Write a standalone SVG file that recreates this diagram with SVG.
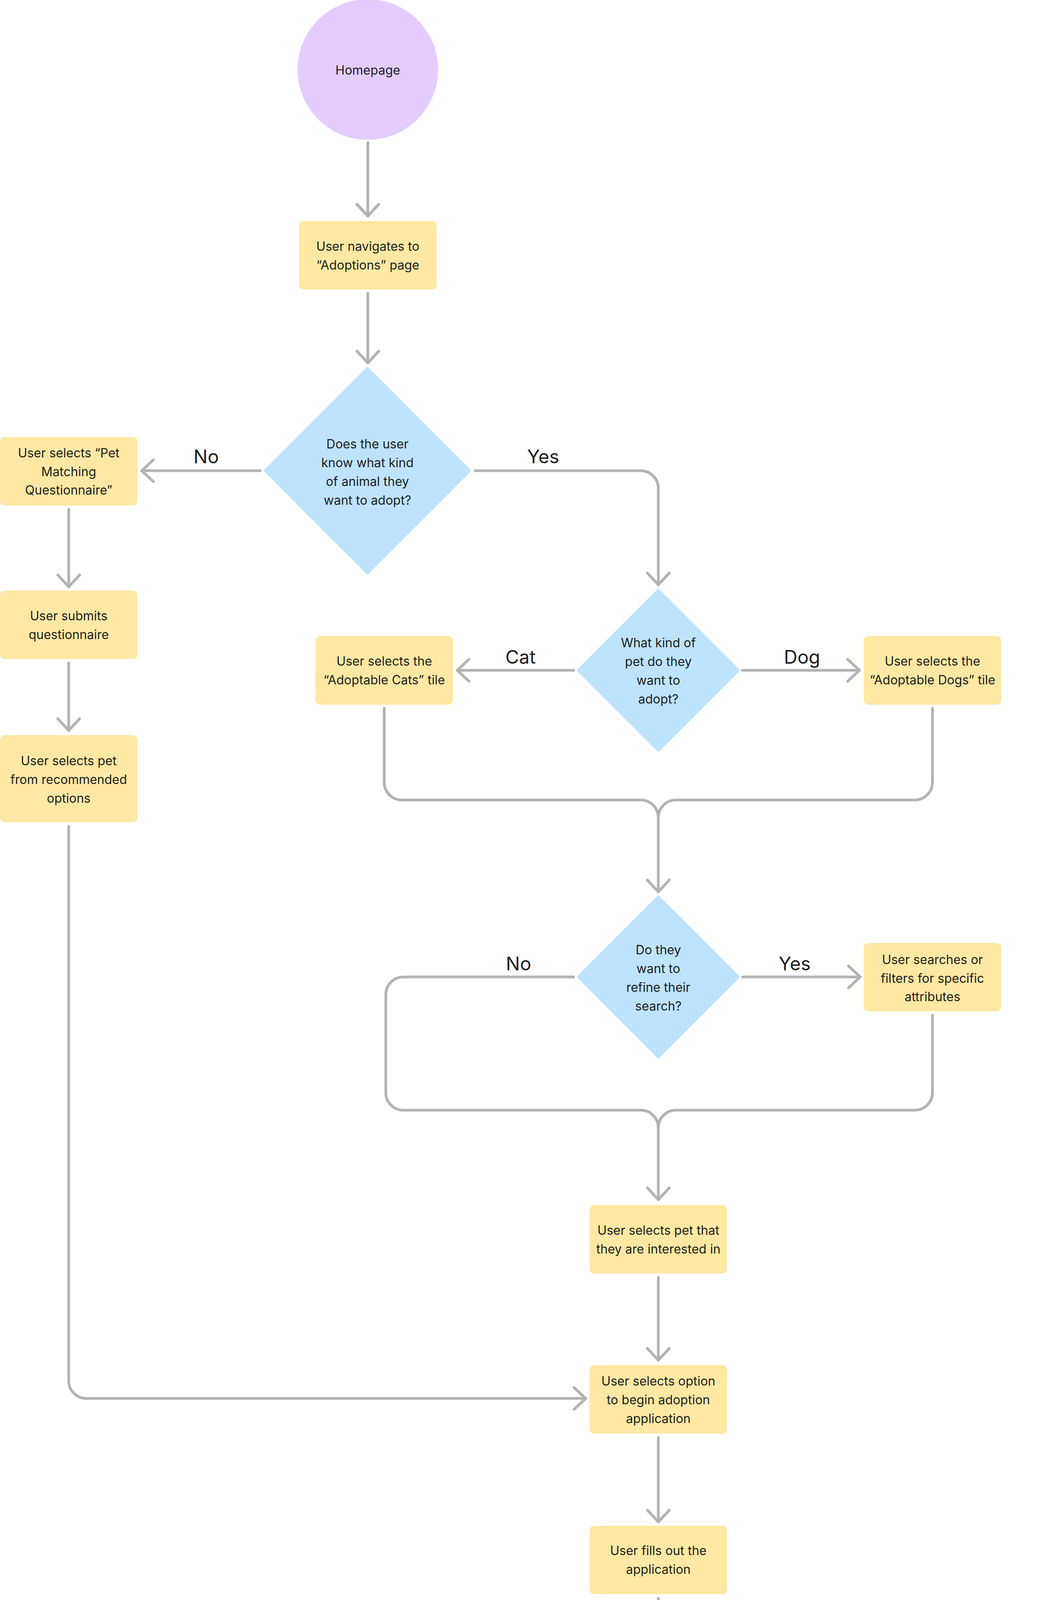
<svg xmlns="http://www.w3.org/2000/svg" width="2666" height="6170" viewBox="0 0 2666 6170">
<defs>
<style>
.box{fill:#FFE8A3}
.dia{fill:#BDE3FF;stroke:#BDE3FF;stroke-width:8;stroke-linejoin:round}
.t{font-family:Inter,"Noto Sans","DejaVu Sans",sans-serif;font-size:32px;fill:#1E1E1E;text-anchor:middle}
.lbl{font-family:Inter,"Noto Sans","DejaVu Sans",sans-serif;font-size:48px;fill:#1E1E1E;text-anchor:middle}
.c{fill:none;stroke:#B3B3B3;stroke-width:7;stroke-linecap:round;stroke-linejoin:round}
</style>
<marker id="arr" markerUnits="userSpaceOnUse" markerWidth="80" markerHeight="80" viewBox="-40 -40 80 80" refX="0" refY="0" orient="auto" overflow="visible">
<path d="M-30,-28 L0,0 L-30,28" fill="none" stroke="#B3B3B3" stroke-width="7" stroke-linecap="round" stroke-linejoin="round"/>
</marker>
</defs>
<rect width="2666" height="6170" fill="#FFFFFF"/>

<g id="connectors">
<path class="c" d="M942 365 V553" marker-end="url(#arr)"/>
<path class="c" d="M942 751 V929" marker-end="url(#arr)"/>
<path class="c" d="M666 1205 H363" marker-end="url(#arr)"/>
<path class="c" d="M1217 1205 H1641 A45 45 0 0 1 1686 1250 V1497" marker-end="url(#arr)"/>
<path class="c" d="M176 1304 V1502" marker-end="url(#arr)"/>
<path class="c" d="M176 1697 V1870" marker-end="url(#arr)"/>
<path class="c" d="M1469 1716 H1171" marker-end="url(#arr)"/>
<path class="c" d="M1901 1716 H2201" marker-end="url(#arr)"/>
<path class="c" d="M984 1813 V2003 A45 45 0 0 0 1029 2048 H1641 A45 45 0 0 1 1686 2093 V2283" marker-end="url(#arr)"/>
<path class="c" d="M2388 1813 V2003 A45 45 0 0 1 2343 2048 H1731 A45 45 0 0 0 1686 2093"/>
<path class="c" d="M1469 2501 H1033 A45 45 0 0 0 988 2546 V2797 A45 45 0 0 0 1033 2842 H1641 A45 45 0 0 1 1686 2887 V3071" marker-end="url(#arr)"/>
<path class="c" d="M1902 2501 H2203" marker-end="url(#arr)"/>
<path class="c" d="M2388 2599 V2797 A45 45 0 0 1 2343 2842 H1731 A45 45 0 0 0 1686 2887"/>
<path class="c" d="M1686 3270 V3482" marker-end="url(#arr)"/>
<path class="c" d="M176 2115 V3535 A45 45 0 0 0 221 3580 H1500" marker-end="url(#arr)"/>
<path class="c" d="M1686 3680 V3896" marker-end="url(#arr)"/>
<path class="c" d="M1686 4092 V4260" marker-end="url(#arr)"/>
<path class="c" d="M1419 4525 H1091" marker-end="url(#arr)"/>
<path class="c" d="M1951 4525 H2302" marker-end="url(#arr)"/>
<path class="c" d="M902 4622 V4906 A45 45 0 0 0 947 4951 H1641 A45 45 0 0 1 1686 4996 V5274" marker-end="url(#arr)"/>
<path class="c" d="M2488 4622 V4906 A45 45 0 0 1 2443 4951 H1731 A45 45 0 0 0 1686 4996"/>
<path class="c" d="M1686 5477 V5803" marker-end="url(#arr)"/>
</g>

<g id="labels">
<text class="lbl" x="528" y="1186">No</text>
<text class="lbl" x="1391" y="1186">Yes</text>
<text class="lbl" x="1333" y="1699">Cat</text>
<text class="lbl" x="2054" y="1699">Dog</text>
<text class="lbl" x="1328" y="2484">No</text>
<text class="lbl" x="2035" y="2484">Yes</text>
<text class="lbl" x="1264" y="4508">No</text>
<text class="lbl" x="2126" y="4508">Yes</text>
</g>

<g id="n-homepage">
<circle cx="942" cy="178" r="180" fill="#E4CCFF"/>
<text class="t" x="942" y="191">Homepage</text>
</g>

<g id="n-adoptions">
<rect class="box" x="766" y="566" width="352" height="175" rx="12"/>
<text class="t" x="942" y="642">User navigates to</text>
<text class="t" x="942" y="690">“Adoptions” page</text>
</g>

<g id="d-know">
<polygon class="dia" points="941,944 1202,1205 941,1466 680,1205"/>
<text class="t" x="941" y="1148">Does the user</text>
<text class="t" x="941" y="1196">know what kind</text>
<text class="t" x="941" y="1244">of animal they</text>
<text class="t" x="941" y="1292">want to adopt?</text>
</g>

<g id="n-questionnaire">
<rect class="box" x="0" y="1119" width="352" height="175" rx="12"/>
<text class="t" x="176" y="1171">User selects “Pet</text>
<text class="t" x="176" y="1219">Matching</text>
<text class="t" x="176" y="1266">Questionnaire”</text>
</g>

<g id="n-submits-q">
<rect class="box" x="0" y="1512" width="352" height="175" rx="12"/>
<text class="t" x="176" y="1588">User submits</text>
<text class="t" x="176" y="1636">questionnaire</text>
</g>

<g id="n-recommended">
<rect class="box" x="0" y="1882" width="352" height="223" rx="12"/>
<text class="t" x="176" y="1959">User selects pet</text>
<text class="t" x="176" y="2007">from recommended</text>
<text class="t" x="176" y="2055">options</text>
</g>

<g id="d-kind">
<polygon class="dia" points="1686,1512 1890,1716 1686,1920 1482,1716"/>
<text class="t" x="1686" y="1657">What kind of</text>
<text class="t" x="1686" y="1705">pet do they</text>
<text class="t" x="1686" y="1753">want to</text>
<text class="t" x="1686" y="1801">adopt?</text>
</g>

<g id="n-cats">
<rect class="box" x="808" y="1628" width="352" height="176" rx="12"/>
<text class="t" x="984" y="1704">User selects the</text>
<text class="t" x="984" y="1752">“Adoptable Cats” tile</text>
</g>

<g id="n-dogs">
<rect class="box" x="2212" y="1628" width="352" height="176" rx="12"/>
<text class="t" x="2388" y="1704">User selects the</text>
<text class="t" x="2388" y="1752">“Adoptable Dogs” tile</text>
</g>

<g id="d-refine">
<polygon class="dia" points="1686,2297 1890,2501 1686,2705 1482,2501"/>
<text class="t" x="1686" y="2443">Do they</text>
<text class="t" x="1686" y="2491">want to</text>
<text class="t" x="1686" y="2539">refine their</text>
<text class="t" x="1686" y="2587">search?</text>
</g>

<g id="n-search">
<rect class="box" x="2212" y="2414" width="352" height="175" rx="12"/>
<text class="t" x="2388" y="2468">User searches or</text>
<text class="t" x="2388" y="2516">filters for specific</text>
<text class="t" x="2388" y="2563">attributes</text>
</g>

<g id="n-select-pet">
<rect class="box" x="1510" y="3085" width="352" height="175" rx="12"/>
<text class="t" x="1686" y="3161">User selects pet that</text>
<text class="t" x="1686" y="3209">they are interested in</text>
</g>

<g id="n-option">
<rect class="box" x="1510" y="3495" width="352" height="175" rx="12"/>
<text class="t" x="1686" y="3547">User selects option</text>
<text class="t" x="1686" y="3595">to begin adoption</text>
<text class="t" x="1686" y="3643">application</text>
</g>

<g id="n-fill">
<rect class="box" x="1510" y="3906" width="352" height="175" rx="12"/>
<text class="t" x="1686" y="3981">User fills out the</text>
<text class="t" x="1686" y="4029">application</text>
</g>

<g id="d-kit">
<polygon class="dia" points="1684,4274 1935,4525 1684,4776 1433,4525"/>
<text class="t" x="1684" y="4444">Are they</text>
<text class="t" x="1684" y="4492">interested in</text>
<text class="t" x="1684" y="4540">purchasing an</text>
<text class="t" x="1684" y="4588">adoption</text>
<text class="t" x="1684" y="4636">starter kit?</text>
</g>

<g id="n-skip">
<rect class="box" x="726" y="4437" width="352" height="176" rx="12"/>
<text class="t" x="902" y="4492">User skips the option</text>
<text class="t" x="902" y="4540">to purchase an</text>
<text class="t" x="902" y="4588">adoption starter kit</text>
</g>

<g id="n-add">
<rect class="box" x="2314" y="4437" width="352" height="176" rx="12"/>
<text class="t" x="2490" y="4516">User adds adoption</text>
<text class="t" x="2490" y="4564">kit to their cart</text>
</g>

<g id="n-pays">
<rect class="box" x="1510" y="5289" width="352" height="174" rx="12"/>
<text class="t" x="1686" y="5342">User pays adoption</text>
<text class="t" x="1686" y="5390">fees and other costs</text>
<text class="t" x="1686" y="5438">if applicable</text>
</g>

<g id="n-end">
<circle cx="1686" cy="5997" r="180" fill="#AFF4C6"/>
<text class="t" x="1686" y="5958">User submits</text>
<text class="t" x="1686" y="6007">adoption</text>
<text class="t" x="1686" y="6054">application</text>
</g>
</svg>
